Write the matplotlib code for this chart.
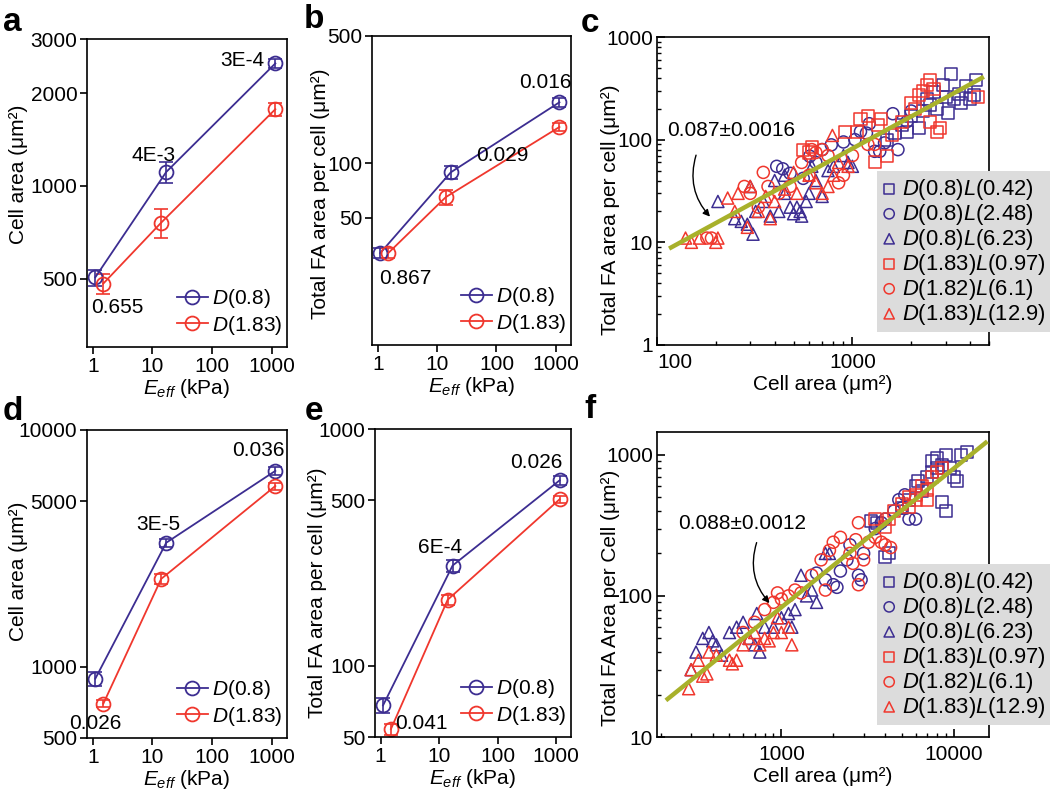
import numpy as np
import matplotlib.pyplot as plt
import matplotlib as mpl
from matplotlib.ticker import NullLocator, NullFormatter, LogLocator

mpl.rcParams['font.family'] = ['Liberation Sans', 'DejaVu Sans']
mpl.rcParams['mathtext.fontset'] = 'custom'
mpl.rcParams['mathtext.rm'] = 'Liberation Sans'
mpl.rcParams['mathtext.it'] = 'Liberation Sans:italic'
mpl.rcParams['font.size'] = 15
mpl.rcParams['axes.linewidth'] = 1.2

BLUE = '#3c2d91'
RED = '#f0372d'
LIME = '#a8b12b'

# ---- panels a, b, d, e : value vs E_eff ----
e_blue = [1.1, 17, 1150]
e_red = [1.5, 14, 1150]

a_blue = [505, 1110, 2500]
a_blue_err = [30, 85, 90]
a_red = [482, 760, 1775]
a_red_err = [35, 80, 85]

b_blue = [32, 89, 216]
b_blue_err = [2, 7, 12]
b_red = [32, 65, 158]
b_red_err = [2, 6, 8]

d_blue = [890, 3340, 6720]
d_blue_err = [60, 140, 250]
d_red = [698, 2350, 5800]
d_red_err = [25, 110, 200]

e_blue_v = [68, 265, 607]
e_blue_err = [5, 15, 25]
e_red_v = [54, 190, 505]
e_red_err = [3, 10, 18]

# p-value labels: (text, which series, point index, offset in points)
a_notes = [('0.655', 'b', 0, (16, -22)), ('4E-3', 'b', 1, (-9, 12)), ('3E-4', 'b', 2, (-24, 2))]
b_notes = [('0.867', 'b', 0, (18, -18)), ('0.029', 'b', 1, (37, 12)), ('0.016', 'b', 2, (-10, 14))]
d_notes = [('0.026', 'r', 0, (-6, -14)), ('3E-5', 'b', 1, (-6, 13)), ('0.036', 'b', 2, (-12, 15))]
e_notes = [('0.041', 'r', 0, (22, 4)), ('6E-4', 'b', 1, (-9, 13)), ('0.026', 'b', 2, (-17, 13))]

# ---- panel c scatter ----
c_sq_b_x = [3200, 4300, 3800, 2900, 3500, 4000, 3300, 3100, 2500, 2300, 2000, 1800, 2200, 1900, 2700, 3600, 2400, 4200, 3000, 2600, 1500, 1650]
c_sq_b_y = [440, 380, 330, 340, 280, 250, 250, 180, 220, 190, 170, 140, 130, 120, 200, 230, 250, 270, 260, 290, 100, 115]
c_ci_b_x = [410, 480, 440, 605, 780, 1030, 1220, 1610, 1380, 1300, 1710, 1460, 1180, 900, 700, 560, 650, 2000, 1900, 1100]
c_ci_b_y = [55, 47, 52, 69, 89, 100, 143, 179, 77, 77, 80, 93, 116, 95, 80, 42, 60, 190, 150, 120]
c_tr_b_x = [205, 250, 270, 290, 300, 310, 320, 350, 380, 400, 420, 450, 480, 500, 520, 550, 600, 620, 650, 700, 750, 800, 900, 950, 1000, 450, 580, 540]
c_tr_b_y = [25, 17, 16, 15, 35, 12, 20, 25, 18, 40, 20, 30, 22, 19, 22, 18, 30, 55, 40, 28, 50, 55, 70, 60, 55, 45, 25, 20]
c_sq_r_x = [560, 600, 620, 914, 1050, 1100, 1200, 1300, 1350, 1400, 1500, 1800, 2000, 2100, 2300, 2400, 2500, 2700, 2800, 2500, 4400, 2200, 2600, 1600]
c_sq_r_y = [80, 75, 85, 120, 120, 160, 170, 60, 140, 160, 70, 150, 230, 200, 300, 340, 380, 120, 130, 150, 260, 270, 310, 110]
c_ci_r_x = [180, 190, 280, 300, 350, 370, 420, 480, 550, 600, 650, 700, 750, 850, 900, 1000, 1200, 1300, 620, 330]
c_ci_r_y = [11, 11, 35, 30, 48, 35, 30, 35, 60, 45, 75, 80, 70, 38, 45, 70, 90, 90, 80, 22]
c_tr_r_x = [140, 150, 165, 200, 205, 230, 250, 260, 290, 300, 330, 360, 380, 400, 450, 500, 520, 600, 650, 700, 750, 800, 850, 950, 790]
c_tr_r_y = [11, 10, 11, 10, 11, 27, 20, 30, 14, 35, 20, 28, 17, 25, 33, 48, 30, 45, 38, 30, 35, 45, 60, 55, 110]
c_fit_x = [118, 4600]
c_fit_y = [8.9, 400]

# ---- panel f scatter ----
f_sq_b_x = [3300, 3600, 4000, 4200, 5000, 5500, 6000, 6200, 6500, 7000, 7500, 8000, 8500, 9000, 10000, 10500, 11000, 12000, 9000, 8500, 9500, 7500, 8000]
f_sq_b_y = [340, 330, 190, 200, 420, 480, 600, 650, 550, 700, 900, 950, 850, 1000, 700, 650, 1000, 1050, 400, 460, 800, 750, 800]
f_ci_b_x = [1600, 1800, 2000, 2100, 2200, 2400, 2500, 2800, 2900, 3000, 3500, 3800, 4000, 4500, 5000, 5500, 6000, 4800, 5200]
f_ci_b_y = [145, 130, 120, 115, 150, 180, 230, 140, 130, 200, 300, 330, 350, 400, 420, 350, 350, 480, 520]
f_tr_b_x = [300, 320, 350, 380, 400, 420, 450, 500, 550, 600, 650, 700, 750, 720, 800, 900, 1000, 1100, 1200, 1300, 1400, 1500, 1600, 1800, 1900, 1150]
f_tr_b_y = [30, 40, 50, 55, 48, 45, 38, 55, 60, 65, 50, 45, 40, 75, 60, 60, 70, 75, 80, 140, 100, 110, 90, 200, 200, 60]
f_sq_r_x = [3500, 4000, 4200, 4500, 5000, 5500, 6000, 6500, 7000, 7500, 8000, 8500, 7000, 6000, 5500]
f_sq_r_y = [350, 310, 350, 400, 450, 500, 520, 600, 560, 700, 750, 800, 480, 480, 430]
f_ci_r_x = [600, 700, 800, 900, 950, 1000, 1100, 1200, 1300, 1500, 1700, 1800, 1900, 2000, 2200, 2500, 2700, 2800, 3000, 3200, 3500, 3800, 4000, 4300, 2600, 2800]
f_ci_r_y = [55, 65, 80, 90, 105, 95, 100, 110, 105, 140, 180, 110, 210, 240, 260, 200, 250, 330, 180, 240, 260, 240, 230, 220, 170, 120]
f_tr_r_x = [290, 300, 330, 350, 380, 420, 500, 520, 550, 600, 650, 700, 750, 800, 850, 900, 1000, 1100, 1150, 950, 370]
f_tr_r_y = [22, 30, 35, 27, 40, 38, 35, 33, 35, 45, 50, 55, 45, 50, 48, 55, 55, 60, 45, 70, 28]
f_fit_x = [219, 15300]
f_fit_y = [18.6, 1216]

labels6 = [r'$D$(0.8)$L$(0.42)', r'$D$(0.8)$L$(2.48)', r'$D$(0.8)$L$(6.23)',
           r'$D$(1.83)$L$(0.97)', r'$D$(1.82)$L$(6.1)', r'$D$(1.83)$L$(12.9)']

fig = plt.figure(figsize=(10.5, 7.96), dpi=100)


def line_panel(rect, vb, eb, vr, er, ylim, yticks, ylabel, notes, lab_xy):
    ax = fig.add_axes(rect)
    ax.set_xscale('log')
    ax.set_yscale('log')
    ax.errorbar(e_blue, vb, yerr=eb, fmt='none', ecolor=BLUE, elinewidth=1.2, capsize=5, capthick=1.2)
    ax.errorbar(e_red, vr, yerr=er, fmt='none', ecolor=RED, elinewidth=1.2, capsize=5, capthick=1.2)
    ax.plot(e_blue, vb, '-o', color=BLUE, mfc='none', ms=10, mew=1.3, lw=1.3, label=r'$D$(0.8)')
    ax.plot(e_red, vr, '-o', color=RED, mfc='none', ms=10, mew=1.3, lw=1.3, label=r'$D$(1.83)')
    ax.set_xlim(0.8, 1800)
    ax.set_ylim(*ylim)
    ax.set_xticks([1, 10, 100, 1000])
    ax.set_xticklabels(['1', '10', '100', '1000'])
    ax.set_yticks(yticks)
    ax.set_yticklabels([str(t) for t in yticks])
    ax.xaxis.set_minor_locator(NullLocator())
    ax.yaxis.set_minor_locator(NullLocator())
    ax.tick_params(direction='out', length=5, width=1.2, pad=2)
    ax.set_xlabel(r'$E_{eff}$ (kPa)', labelpad=1)
    ax.set_ylabel(ylabel)
    ax.yaxis.set_label_coords(*lab_xy)
    for txt, s, i, off in notes:
        xs, ys = (e_blue, vb) if s == 'b' else (e_red, vr)
        ax.annotate(txt, (xs[i], ys[i]), xytext=off, textcoords='offset points',
                    ha='center', va='center')
    ax.legend(loc='lower right', frameon=False, handlelength=1.5, handletextpad=0.2,
              labelspacing=0.15, borderaxespad=0.1, bbox_to_anchor=(1.03, 0.0))
    return ax


def scatter_panel(rect, groups, fit_x, fit_y, xlim, ylim, xticks, yticks, ylabel, lab_xy,
                  note, note_xy, arr_from, arr_to, leg_anchor):
    ax = fig.add_axes(rect)
    ax.set_xscale('log')
    ax.set_yscale('log')
    markers = ['s', 'o', '^', 's', 'o', '^']
    colors = [BLUE, BLUE, BLUE, RED, RED, RED]
    for (gx, gy), m, c, lab in zip(groups, markers, colors, labels6):
        ax.scatter(gx, gy, marker=m, facecolors='none', edgecolors=c, s=75, linewidths=1.1, label=lab)
    ax.plot(fit_x, fit_y, color=LIME, lw=3.2, zorder=5)
    ax.set_xlim(*xlim)
    ax.set_ylim(*ylim)
    ax.set_xticks(xticks)
    ax.set_xticklabels([str(t) for t in xticks])
    ax.set_yticks(yticks)
    ax.set_yticklabels([str(t) for t in yticks])
    ax.xaxis.set_minor_locator(LogLocator(subs=np.arange(2, 10)))
    ax.yaxis.set_minor_locator(LogLocator(subs=np.arange(2, 10)))
    ax.xaxis.set_minor_formatter(NullFormatter())
    ax.yaxis.set_minor_formatter(NullFormatter())
    ax.tick_params(which='major', direction='in', length=6, width=1.2, pad=3)
    ax.tick_params(axis='x', which='major', pad=6)
    ax.tick_params(which='minor', direction='in', length=3, width=1.0)
    ax.set_xlabel('Cell area (\u03bcm\u00b2)', labelpad=2)
    ax.set_ylabel(ylabel)
    ax.yaxis.set_label_coords(*lab_xy)
    ax.text(note_xy[0], note_xy[1], note, ha='center', va='center')
    ax.annotate('', xy=arr_to, xytext=arr_from,
                arrowprops=dict(arrowstyle='-|>', color='black', lw=1.0, mutation_scale=10,
                                connectionstyle='arc3,rad=0.3'))
    ax.legend(loc='lower left', bbox_to_anchor=leg_anchor, frameon=True, fancybox=False,
              facecolor='#dcdcdc', edgecolor='none', framealpha=1, handlelength=0.6,
              handletextpad=0.3, labelspacing=0.0, borderpad=0.25, borderaxespad=0,
              scatterpoints=1, markerscale=0.85, fontsize=15.8)
    return ax


line_panel([0.0829, 0.5641, 0.1904, 0.3869], a_blue, a_blue_err, a_red, a_red_err,
           (300, 3000), [500, 1000, 2000, 3000], 'Cell area (\u03bcm\u00b2)', a_notes, (-0.295, 0.56))
line_panel([0.3543, 0.5666, 0.1895, 0.3882], b_blue, b_blue_err, b_red, b_red_err,
           (10, 500), [50, 100, 500], 'Total FA area per cell (\u03bcm\u00b2)', b_notes, (-0.211, 0.49))
line_panel([0.0829, 0.0729, 0.1904, 0.3869], d_blue, d_blue_err, d_red, d_red_err,
           (500, 10000), [500, 1000, 5000, 10000], 'Cell area (\u03bcm\u00b2)', d_notes, (-0.295, 0.54))
line_panel([0.3571, 0.0741, 0.1867, 0.3869], e_blue_v, e_blue_err, e_red_v, e_red_err,
           (50, 1000), [50, 100, 500, 1000], 'Total FA area per cell (\u03bcm\u00b2)', e_notes, (-0.245, 0.47))

c_groups = [(c_sq_b_x, c_sq_b_y), (c_ci_b_x, c_ci_b_y), (c_tr_b_x, c_tr_b_y),
            (c_sq_r_x, c_sq_r_y), (c_ci_r_x, c_ci_r_y), (c_tr_r_x, c_tr_r_y)]
ax_c = scatter_panel([0.6257, 0.5666, 0.3162, 0.3869], c_groups, c_fit_x, c_fit_y, (100, 5000), (1, 1000),
                     [100, 1000], [1, 10, 100, 1000], 'Total FA area per cell (\u03bcm\u00b2)', (-0.111, 0.44),
                     '0.087\u00b10.0016', (239, 122), (160, 75), (191, 17), (0.663, 0.042))
# the "100" corner label sits a bit to the right, as in the original
ax_c.xaxis.get_major_ticks()[0].label1.set_horizontalalignment('left')

f_groups = [(f_sq_b_x, f_sq_b_y), (f_ci_b_x, f_ci_b_y), (f_tr_b_x, f_tr_b_y),
            (f_sq_r_x, f_sq_r_y), (f_ci_r_x, f_ci_r_y), (f_tr_r_x, f_tr_r_y)]
scatter_panel([0.6257, 0.0741, 0.3162, 0.3832], f_groups, f_fit_x, f_fit_y, (190, 16000), (10, 1450),
              [1000, 10000], [10, 100, 1000], 'Total FA Area per Cell (\u03bcm\u00b2)', (-0.111, 0.456),
              '0.088\u00b10.0012', (596, 324), (727, 249), (875, 86), (0.663, 0.039))

for lt, x, y in [('a', 0.012, 0.972), ('b', 0.299, 0.975), ('c', 0.562, 0.97),
                 ('d', 0.012, 0.483), ('e', 0.299, 0.483), ('f', 0.562, 0.486)]:
    fig.text(x, y, lt, fontsize=24, fontweight='bold', ha='center', va='center')

fig.savefig('out.png', dpi=100)
